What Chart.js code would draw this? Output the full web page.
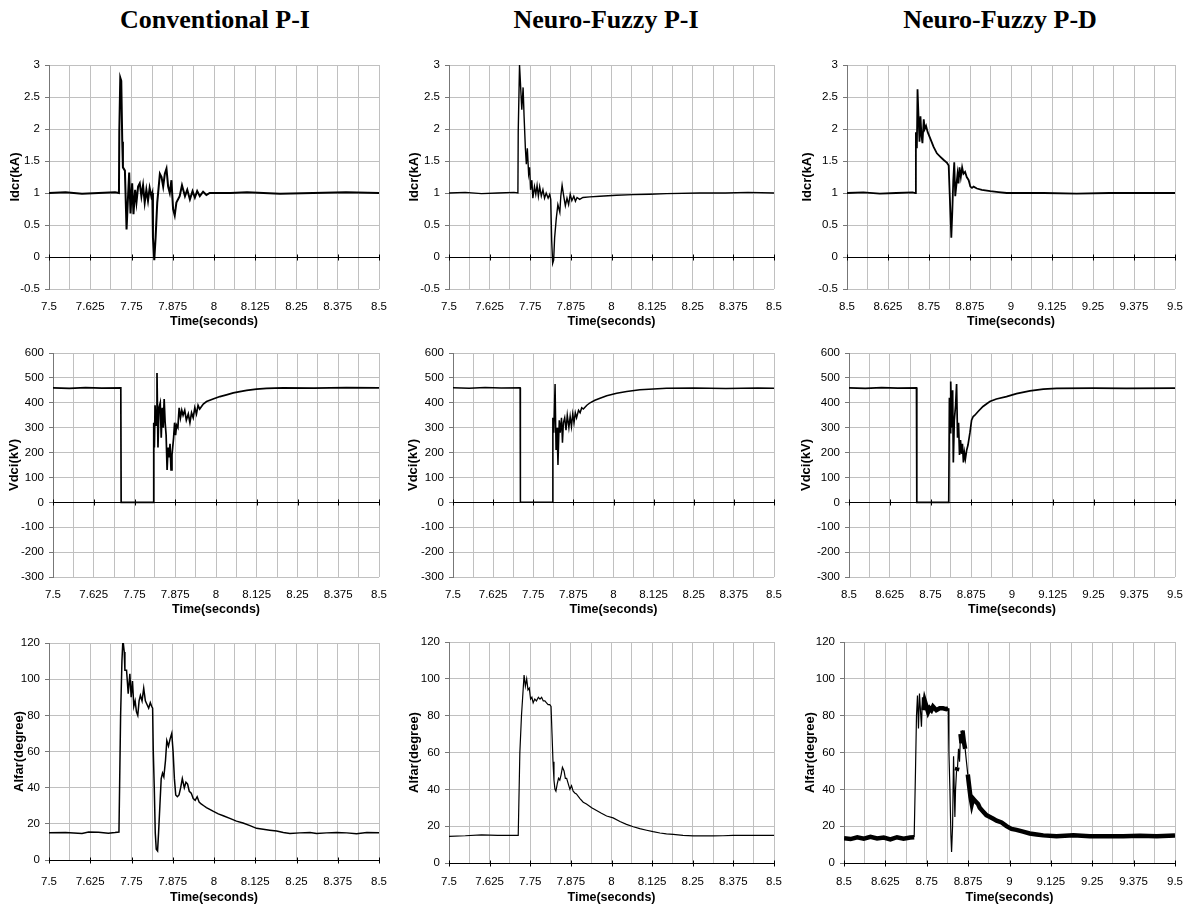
<!DOCTYPE html>
<html>
<head>
<meta charset="utf-8">
<script src="https://cdn.jsdelivr.net/npm/chart.js@4.4.1/dist/chart.umd.min.js"></script>
<style>
body{margin:0;background:#fff;width:1192px;height:911px;position:relative;overflow:hidden}
canvas{position:absolute}
.ttl{position:absolute;top:7px;font:bold 26px "Liberation Serif";line-height:26px;white-space:nowrap;transform:translateX(-50%);color:#000}
</style>
</head>
<body>
<div class="ttl" style="left:215px">Conventional P-I</div>
<div class="ttl" style="left:606px">Neuro-Fuzzy P-I</div>
<div class="ttl" style="left:1000px">Neuro-Fuzzy P-D</div>
<script>
// tick labels for the time axes
const timeLabelsA = ['7.5', '7.625', '7.75', '7.875', '8', '8.125', '8.25', '8.375', '8.5'];
const timeLabelsB = ['8.5', '8.625', '8.75', '8.875', '9', '9.125', '9.25', '9.375', '9.5'];

// y ranges
const idcrRange = {min: -0.5, max: 3, step: 0.5};
const vdciRange = {min: -300, max: 600, step: 100};
const alfarRange = {min: 0, max: 120, step: 20};

// [time, value]
const convIdcr = [
    [7.5, 1.0], [7.55, 1.01], [7.6, 0.99], [7.65, 1.0], [7.7, 1.01], [7.712, 1.0],
    [7.713, 1.95], [7.716, 2.8], [7.719, 2.75], [7.722, 1.8], [7.724, 1.4], [7.730, 1.35],
    [7.735, 0.43], [7.740, 1.0], [7.743, 1.32], [7.747, 0.68], [7.752, 1.15], [7.756, 0.67],
    [7.761, 1.05], [7.765, 0.85], [7.770, 1.1], [7.775, 1.15], [7.780, 0.95], [7.785, 1.12],
    [7.790, 0.85], [7.795, 1.05], [7.800, 0.88], [7.805, 1.08], [7.810, 0.95], [7.813, 1.0],
    [7.815, 0.3], [7.819, -0.05], [7.823, 0.3], [7.828, 0.85], [7.836, 1.3], [7.841, 1.25],
    [7.846, 1.1], [7.851, 1.3], [7.856, 1.38], [7.861, 1.1], [7.866, 1.0], [7.871, 1.2],
    [7.876, 0.75], [7.881, 0.65], [7.886, 0.85], [7.896, 0.95], [7.903, 1.12], [7.912, 0.95],
    [7.919, 1.05], [7.927, 0.9], [7.935, 1.03], [7.942, 0.93], [7.949, 1.03], [7.957, 0.95],
    [7.967, 1.02], [7.977, 0.97], [7.987, 1.0], [8.05, 1.0], [8.1, 1.01], [8.2, 0.99],
    [8.3, 1.0], [8.4, 1.01], [8.5, 1.0]
];
const nfpiIdcr = [
    [7.5, 1.0], [7.55, 1.01], [7.6, 0.99], [7.65, 1.0], [7.7, 1.01], [7.712, 1.0],
    [7.713, 1.95], [7.717, 3.0], [7.721, 2.6], [7.724, 2.3], [7.728, 2.65], [7.731, 2.2],
    [7.735, 1.7], [7.738, 1.45], [7.741, 1.7], [7.745, 1.3], [7.748, 1.4], [7.751, 1.05],
    [7.755, 1.2], [7.758, 0.92], [7.763, 1.1], [7.767, 0.98], [7.771, 1.12], [7.775, 0.95],
    [7.779, 1.1], [7.784, 0.95], [7.789, 1.05], [7.794, 0.92], [7.799, 1.0], [7.805, 0.92],
    [7.810, 0.98], [7.813, 0.9], [7.816, 0.25], [7.819, -0.1], [7.822, -0.05], [7.825, 0.3],
    [7.830, 0.6], [7.835, 0.82], [7.841, 0.7], [7.844, 0.95], [7.848, 1.12], [7.853, 0.95],
    [7.858, 0.8], [7.863, 0.92], [7.868, 0.82], [7.873, 0.98], [7.878, 0.88], [7.884, 0.95],
    [7.889, 0.87], [7.894, 0.93], [7.902, 0.9], [7.912, 0.93], [7.933, 0.94], [7.964, 0.95],
    [8.015, 0.965], [8.066, 0.975], [8.117, 0.98], [8.169, 0.99], [8.271, 1.0], [8.35, 1.0],
    [8.42, 1.01], [8.5, 1.0]
];
const nfpdIdcr = [
    [8.5, 1.0], [8.55, 1.01], [8.6, 0.99], [8.65, 1.0], [8.7, 1.01], [8.708, 1.0],
    [8.710, 1.95], [8.713, 1.7], [8.715, 2.62], [8.718, 2.2], [8.721, 1.8], [8.724, 2.2],
    [8.727, 1.9], [8.730, 1.78], [8.734, 2.15], [8.737, 2.0], [8.741, 2.05], [8.746, 1.95],
    [8.754, 1.85], [8.764, 1.72], [8.774, 1.62], [8.784, 1.57], [8.794, 1.52], [8.805, 1.47],
    [8.810, 1.43], [8.813, 1.0], [8.816, 0.6], [8.818, 0.3], [8.821, 0.7], [8.824, 1.2],
    [8.827, 1.48], [8.830, 0.95], [8.833, 1.1], [8.837, 1.3], [8.840, 1.15], [8.843, 1.4],
    [8.847, 1.25], [8.851, 1.4], [8.855, 1.3], [8.860, 1.33], [8.865, 1.25], [8.871, 1.2],
    [8.876, 1.1], [8.881, 1.08], [8.886, 1.1], [8.896, 1.07], [8.911, 1.05], [8.937, 1.03],
    [8.962, 1.015], [8.987, 1.0], [9.1, 1.0], [9.2, 0.99], [9.3, 1.0], [9.4, 1.0], [9.5, 1.0]
];

const convVdci = [
    [7.5, 460], [7.55, 458], [7.6, 461], [7.65, 459], [7.708, 460], [7.709, 0],
    [7.807, 0], [7.809, 320], [7.811, 220], [7.813, 390], [7.816, 310], [7.819, 520],
    [7.822, 220], [7.825, 380], [7.829, 400], [7.832, 260], [7.835, 380], [7.838, 300],
    [7.841, 415], [7.844, 320], [7.847, 270], [7.850, 130], [7.853, 220], [7.856, 180],
    [7.859, 235], [7.862, 130], [7.865, 190], [7.870, 260], [7.873, 320], [7.876, 270],
    [7.879, 310], [7.883, 300], [7.887, 380], [7.891, 340], [7.895, 370], [7.899, 350],
    [7.904, 370], [7.909, 330], [7.915, 355], [7.920, 320], [7.925, 360], [7.930, 340],
    [7.935, 380], [7.940, 355], [7.945, 390], [7.950, 375], [7.961, 395], [7.971, 405],
    [7.991, 415], [8.012, 425], [8.032, 432], [8.053, 440], [8.073, 445], [8.094, 450],
    [8.124, 455], [8.155, 458], [8.206, 460], [8.3, 459], [8.4, 461], [8.5, 460]
];
const nfpiVdci = [
    [7.5, 460], [7.55, 458], [7.6, 461], [7.65, 459], [7.709, 460], [7.710, 0],
    [7.809, 0], [7.811, 340], [7.814, 280], [7.818, 475], [7.821, 210], [7.824, 300],
    [7.827, 150], [7.831, 330], [7.834, 280], [7.838, 340], [7.841, 240], [7.844, 320],
    [7.848, 340], [7.852, 290], [7.856, 350], [7.861, 300], [7.865, 345], [7.869, 305],
    [7.873, 355], [7.877, 320], [7.881, 360], [7.885, 340], [7.891, 370], [7.896, 360],
    [7.901, 380], [7.906, 375], [7.917, 390], [7.927, 400], [7.942, 410], [7.958, 418],
    [7.979, 428], [8.010, 438], [8.041, 445], [8.082, 452], [8.124, 455], [8.165, 458],
    [8.25, 459], [8.35, 457], [8.45, 459], [8.5, 458]
];
const nfpdVdci = [
    [8.5, 460], [8.55, 458], [8.6, 461], [8.65, 459], [8.707, 460], [8.708, 0],
    [8.806, 0], [8.808, 420], [8.810, 280], [8.812, 485], [8.815, 300], [8.818, 450],
    [8.820, 160], [8.823, 330], [8.827, 390], [8.830, 475], [8.833, 260], [8.836, 320],
    [8.839, 190], [8.842, 250], [8.845, 195], [8.848, 235], [8.851, 160], [8.854, 200],
    [8.857, 175], [8.861, 210], [8.865, 230], [8.871, 280], [8.876, 330], [8.881, 345],
    [8.886, 350], [8.896, 365], [8.911, 385], [8.932, 405], [8.952, 415], [8.983, 425],
    [9.014, 437], [9.055, 448], [9.096, 455], [9.137, 458], [9.25, 459], [9.35, 458],
    [9.5, 459]
];

const convAlfar = [
    [7.5, 15], [7.55, 15.2], [7.6, 14.7], [7.62, 15.5], [7.65, 15.3], [7.68, 14.8],
    [7.7, 15.2], [7.712, 15.5], [7.717, 80], [7.721, 110], [7.724, 122], [7.728, 115],
    [7.730, 105], [7.735, 105], [7.740, 92], [7.745, 103], [7.749, 90], [7.753, 99],
    [7.757, 85], [7.761, 88], [7.765, 82], [7.769, 80], [7.773, 88], [7.777, 91],
    [7.782, 88], [7.787, 95], [7.792, 88], [7.797, 86], [7.802, 84], [7.807, 87],
    [7.811, 85], [7.814, 84], [7.816, 60], [7.819, 40], [7.822, 15], [7.825, 6],
    [7.829, 5], [7.832, 15], [7.836, 30], [7.840, 45], [7.844, 48], [7.848, 46],
    [7.853, 55], [7.857, 66], [7.862, 63], [7.867, 67], [7.872, 70], [7.876, 60],
    [7.880, 45], [7.884, 36], [7.889, 35], [7.894, 36], [7.899, 40], [7.904, 45],
    [7.910, 40], [7.915, 43], [7.920, 42], [7.925, 38], [7.931, 37], [7.937, 34],
    [7.943, 33], [7.949, 35], [7.955, 32], [7.961, 31], [7.969, 30], [7.977, 29],
    [7.987, 28], [7.997, 27], [8.013, 25.5], [8.028, 24.5], [8.048, 23], [8.068, 21.5],
    [8.088, 20.5], [8.109, 19], [8.129, 17.5], [8.149, 17], [8.169, 16.5], [8.190, 16],
    [8.210, 15.2], [8.230, 14.7], [8.260, 15], [8.291, 15.2], [8.311, 14.7], [8.341, 15],
    [8.372, 15.2], [8.402, 15], [8.432, 14.5], [8.463, 15.2], [8.5, 15]
];
const nfpiAlfar = [
    [7.5, 14.5], [7.55, 14.8], [7.6, 15.3], [7.65, 15], [7.7, 15], [7.713, 15],
    [7.718, 60], [7.723, 80], [7.731, 102], [7.735, 96], [7.739, 100], [7.743, 94],
    [7.747, 95], [7.751, 89], [7.755, 90], [7.759, 87], [7.764, 89], [7.769, 88],
    [7.775, 90], [7.780, 89], [7.785, 90], [7.790, 88], [7.795, 88], [7.800, 87],
    [7.805, 86], [7.810, 86], [7.814, 85], [7.817, 70], [7.820, 55], [7.823, 45],
    [7.826, 40], [7.829, 39], [7.833, 43], [7.837, 46], [7.841, 45], [7.845, 48],
    [7.849, 52], [7.854, 50], [7.858, 46], [7.862, 46], [7.867, 43], [7.872, 40],
    [7.877, 42], [7.882, 39], [7.887, 38], [7.892, 37.5], [7.903, 35], [7.913, 33],
    [7.923, 32], [7.939, 30], [7.954, 28.5], [7.969, 27], [7.985, 25.5], [8.005, 24.5],
    [8.026, 22.5], [8.046, 21], [8.067, 19.7], [8.087, 18.7], [8.108, 17.8], [8.128, 17],
    [8.149, 16.3], [8.169, 15.8], [8.190, 15.5], [8.220, 15], [8.251, 14.7], [8.282, 14.8],
    [8.313, 14.7], [8.343, 14.8], [8.374, 15], [8.436, 15], [8.5, 15]
];
const nfpdAlfar = [
    [8.5, 13.5], [8.52, 13], [8.54, 14], [8.56, 13.2], [8.58, 14.2], [8.6, 13.3],
    [8.62, 13.8], [8.64, 12.8], [8.66, 14], [8.68, 13.2], [8.7, 13.8], [8.712, 14],
    [8.716, 50], [8.719, 80], [8.722, 91], [8.725, 73], [8.728, 92], [8.731, 83],
    [8.734, 74], [8.737, 90], [8.740, 83], [8.744, 88], [8.749, 85], [8.754, 82],
    [8.759, 84], [8.764, 83], [8.769, 85], [8.779, 83], [8.789, 84], [8.799, 84],
    [8.809, 83.5], [8.815, 84], [8.817, 60], [8.820, 40], [8.823, 15], [8.825, 6],
    [8.828, 20], [8.831, 58], [8.833, 40], [8.835, 25], [8.837, 40], [8.840, 50],
    [8.843, 52], [8.846, 62], [8.849, 55], [8.852, 70], [8.855, 65], [8.858, 72],
    [8.862, 66], [8.866, 62], [8.870, 55], [8.874, 48], [8.878, 42], [8.882, 36],
    [8.886, 32], [8.890, 35], [8.895, 34], [8.900, 33], [8.905, 32], [8.910, 30],
    [8.920, 28], [8.930, 26], [8.941, 25], [8.951, 24], [8.961, 23], [8.976, 22],
    [8.991, 20], [9.006, 18.5], [9.021, 18], [9.041, 17], [9.061, 16], [9.082, 15.5],
    [9.102, 15], [9.142, 14.5], [9.193, 15], [9.243, 14.5], [9.293, 14.5], [9.344, 14.5],
    [9.394, 14.8], [9.445, 14.5], [9.5, 15]
];

// black axis line at value 0 with tick marks, like the spreadsheet original
const zeroAxis = {
    id: 'zeroAxis',
    beforeDatasetsDraw(chart) {
        let ctx = chart.ctx, a = chart.chartArea, x = chart.scales.x, y = chart.scales.y;
        let y0 = Math.round(y.getPixelForValue(0)) + 0.5;
        ctx.save();
        ctx.strokeStyle = '#000';
        ctx.lineWidth = 1;
        ctx.beginPath();
        ctx.moveTo(a.left, y0);
        ctx.lineTo(a.right, y0);
        x.ticks.forEach((t, i) => {
            if (i % 2) return;
            let px = Math.round(x.getPixelForValue(t.value)) + 0.5;
            ctx.moveTo(px, y0 - 3);
            ctx.lineTo(px, y0 + 3);
        });
        ctx.stroke();
        ctx.restore();
    }
};

const panels = [
    {data: convIdcr, range: idcrRange, yTitle: 'Idcr(kA)', labels: timeLabelsA, left: 49, right: 379, top: 65, bottom: 289, titleX: 16, labelY: 307, titleY: 322, width: 2},
    {data: nfpiIdcr, range: idcrRange, yTitle: 'Idcr(kA)', labels: timeLabelsA, left: 449, right: 774, top: 65, bottom: 289, titleX: 415, labelY: 307, titleY: 322, width: 1.4},
    {data: nfpdIdcr, range: idcrRange, yTitle: 'Idcr(kA)', labels: timeLabelsB, left: 847, right: 1175, top: 65, bottom: 289, titleX: 808, labelY: 307, titleY: 322, width: 1.8},
    {data: convVdci, range: vdciRange, yTitle: 'Vdci(kV)', labels: timeLabelsA, left: 53, right: 379, top: 353, bottom: 577, titleX: 15, labelY: 595, titleY: 610, width: 1.7},
    {data: nfpiVdci, range: vdciRange, yTitle: 'Vdci(kV)', labels: timeLabelsA, left: 453, right: 774, top: 353, bottom: 577, titleX: 414, labelY: 595, titleY: 610, width: 1.5},
    {data: nfpdVdci, range: vdciRange, yTitle: 'Vdci(kV)', labels: timeLabelsB, left: 849, right: 1175, top: 353, bottom: 577, titleX: 807, labelY: 595, titleY: 610, width: 1.7},
    {data: convAlfar, range: alfarRange, yTitle: 'Alfar(degree)', labels: timeLabelsA, left: 49, right: 379, top: 643, bottom: 860, titleX: 20, labelY: 882, titleY: 898, width: 1.5},
    {data: nfpiAlfar, range: alfarRange, yTitle: 'Alfar(degree)', labels: timeLabelsA, left: 449, right: 774, top: 642, bottom: 863, titleX: 415, labelY: 882, titleY: 898, width: 1.2},
    {data: nfpdAlfar, range: alfarRange, yTitle: 'Alfar(degree)', labels: timeLabelsB, left: 844, right: 1175, top: 642, bottom: 863, titleX: 811, labelY: 882, titleY: 898, width: 4.5, thick: true}
];

const tickFont = {family: 'Liberation Sans', size: 11.5};
const gridColor = '#c0c0c0';
const padTop = 18, padRight = 30;

function makePanel(p) {
    let canvas = document.createElement('canvas');
    let cLeft = Math.round(p.titleX - 8);
    let yw = p.left - cLeft;
    let xh = p.titleY - p.bottom + 9;
    let w = p.right - cLeft + padRight;
    let h = padTop + (p.bottom - p.top) + xh;
    canvas.width = w;
    canvas.height = h;
    canvas.style.left = cLeft + 'px';
    canvas.style.top = (p.top - padTop) + 'px';
    canvas.style.width = w + 'px';
    canvas.style.height = h + 'px';
    document.body.appendChild(canvas);
    let xMin = parseFloat(p.labels[0]);
    let xMax = parseFloat(p.labels[p.labels.length - 1]);

    let dataset = {
        data: p.data.map(d => ({x: d[0], y: d[1]})),
        borderColor: '#000',
        borderWidth: p.width,
        pointRadius: 0,
        tension: 0,
        fill: false
    };
    if (p.thick) {
        // noisy band is thick, fast transitions are thin
        dataset.segment = {
            borderWidth: c => Math.abs(c.p1.parsed.y - c.p0.parsed.y) > 6 ? 1.2 : p.width
        };
    }

    new Chart(canvas, {
        type: 'line',
        data: {datasets: [dataset]},
        plugins: [zeroAxis],
        options: {
            responsive: false,
            animation: false,
            devicePixelRatio: 1,
            layout: {padding: {top: padTop, right: padRight, left: 0, bottom: 0}},
            plugins: {legend: {display: false}, tooltip: {enabled: false}},
            scales: {
                x: {
                    type: 'linear', min: xMin, max: xMax,
                    afterFit: s => { s.height = xh; },
                    ticks: {
                        stepSize: 0.0625, autoSkip: false, maxRotation: 0, includeBounds: true,
                        padding: p.labelY - p.bottom - 6.9, color: '#000', font: tickFont,
                        callback: (v, i) => i % 2 === 0 ? p.labels[i / 2] : ''
                    },
                    grid: {color: gridColor, drawTicks: false},
                    border: {display: false},
                    title: {display: true, text: 'Time(seconds)', color: '#000',
                        font: {family: 'Liberation Sans', size: 12.5, weight: 'bold'}, padding: {top: 0, bottom: 1.5}}
                },
                y: {
                    min: p.range.min, max: p.range.max,
                    afterFit: s => { s.width = yw; },
                    ticks: {stepSize: p.range.step, padding: 5, color: '#000', font: tickFont, callback: v => String(v)},
                    grid: {color: gridColor, tickLength: 4, tickColor: '#777'},
                    border: {color: '#777'},
                    title: {display: true, text: p.yTitle, color: '#000',
                        font: {family: 'Liberation Sans', size: 13, weight: 'bold'}, padding: {top: 0, bottom: 0}}
                }
            }
        }
    });
}

panels.forEach(makePanel);
</script>
</body>
</html>
